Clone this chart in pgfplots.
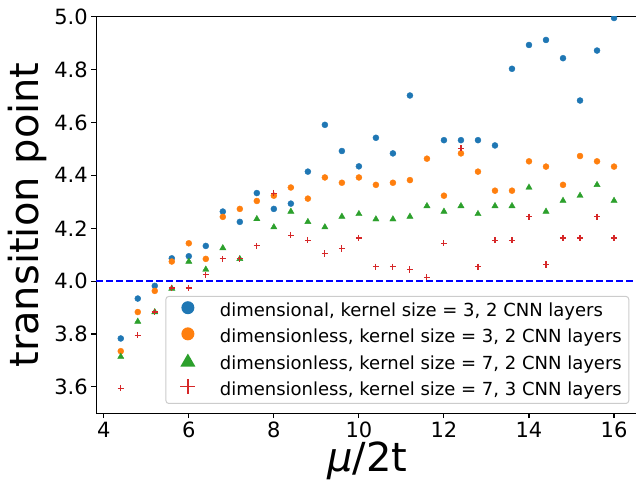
\documentclass[border=0pt]{standalone}
\usepackage{fontspec}
\setmainfont{DejaVu Sans}
\usepackage{pgfplots}
\pgfplotsset{compat=1.18}

\definecolor{c0}{HTML}{1F77B4}
\definecolor{c1}{HTML}{FF7F0E}
\definecolor{c2}{HTML}{2CA02C}
\definecolor{c3}{HTML}{D62728}
\definecolor{frame}{HTML}{CCCCCC}

\begin{document}
\begin{tikzpicture}
\begin{axis}[
    name=ax,
    scale only axis,
    width=542.6pt, height=396.6pt,
    xmin=3.82, xmax=16.58,
    ymin=3.5, ymax=5.0,
    xtick={4,6,8,10,12,14,16},
    ytick={3.6,3.8,4.0,4.2,4.4,4.6,4.8,5.0},
    yticklabel style={/pgf/number format/.cd,fixed,fixed zerofill,precision=1},
    /pgf/number format/assume math mode=true,
    tick label style={font=\fontsize{21}{25}\selectfont},
    tick align=outside,
    tick pos=left,
    major tick length=4.9pt,
    every tick/.style={black, line width=1.1pt},
    axis line style={line width=1.1pt},
    clip marker paths=true,
    xlabel={\textit{μ}/2t},
    ylabel={transition point},
    label style={font=\fontsize{40}{48}\selectfont},
    x label style={at={([yshift=-58.4pt]axis description cs:0.5,0)}, anchor=base},
    y label style={at={([xshift=-57.4pt]axis description cs:0,0.5)}, anchor=base, rotate=0},
    legend cell align=left,
    legend style={
        at={(axis description cs:1,0)}, anchor=south east,
        xshift=-9.4pt, yshift=9.3pt,
        draw=frame, line width=1pt, rounded corners=3pt,
        fill=white, fill opacity=0.8, text opacity=1,
        font=\fontsize{18}{22}\selectfont,
        inner xsep=1pt, inner ysep=2.7pt,
        row sep=3pt,
        nodes={inner xsep=6pt, inner ysep=4pt},
    },
]

% dashed reference line at 4.0
\addplot[blue, line width=2pt, dash pattern=on 7pt off 3pt, forget plot]
coordinates {(3.82,4.0) (16.58,4.0)};

% dimensional, kernel 3, 2 layers
\addplot[only marks, mark=*, mark size=3pt, color=c0, forget plot]
coordinates {
(4.4,3.783)(4.8,3.934)(5.2,3.982)(5.6,4.086)(6.0,4.094)(6.4,4.133)
(6.8,4.263)(7.2,4.224)(7.6,4.333)(8.0,4.273)(8.4,4.293)(8.8,4.414)
(9.2,4.591)(9.6,4.492)(10.0,4.434)(10.4,4.542)(10.8,4.483)(11.2,4.702)
(12.0,4.533)(12.4,4.533)(12.8,4.533)(13.2,4.513)(13.6,4.803)(14.0,4.893)
(14.4,4.912)(14.8,4.843)(15.2,4.683)(15.6,4.872)(16.0,4.995)
};

% dimensionless, kernel 3, 2 layers
\addplot[only marks, mark=*, mark size=3pt, color=c1, forget plot]
coordinates {
(4.4,3.735)(4.8,3.883)(5.2,3.963)(5.6,4.074)(6.0,4.143)(6.4,4.084)
(6.8,4.243)(7.2,4.273)(7.6,4.303)(8.0,4.323)(8.4,4.354)(8.8,4.312)
(9.2,4.392)(9.6,4.372)(10.0,4.392)(10.4,4.364)(10.8,4.372)(11.2,4.382)
(11.6,4.463)(12.0,4.323)(12.4,4.483)(12.8,4.414)(13.2,4.342)(13.6,4.342)
(14.0,4.453)(14.4,4.433)(14.8,4.364)(15.2,4.473)(15.6,4.453)(16.0,4.433)
};

% dimensionless, kernel 7, 2 layers
\addplot[only marks, mark=triangle*, mark size=3.6pt, color=c2, forget plot]
coordinates {
(4.4,3.714)(4.8,3.847)(5.2,3.883)(5.6,3.972)(6.0,4.074)(6.4,4.044)
(6.8,4.125)(7.2,4.084)(7.6,4.235)(8.0,4.204)(8.4,4.263)(8.8,4.224)
(9.2,4.204)(9.6,4.244)(10.0,4.254)(10.4,4.234)(10.8,4.234)(11.2,4.244)
(11.6,4.284)(12.0,4.263)(12.4,4.284)(12.8,4.254)(13.2,4.284)(13.6,4.284)
(14.0,4.354)(14.4,4.263)(14.8,4.304)(15.2,4.323)(15.6,4.364)(16.0,4.304)
};

% dimensionless, kernel 7, 3 layers
\addplot[only marks, mark=+, mark size=3.1pt, line width=1.1pt, color=c3, forget plot]
coordinates {
(4.4,3.595)(4.8,3.795)(5.2,3.883)(5.6,3.974)(6.0,3.974)(6.4,4.024)
(6.8,4.084)(7.2,4.084)(7.6,4.133)(8.0,4.333)(8.4,4.174)(8.8,4.154)
(9.2,4.104)(9.6,4.123)(10.0,4.163)(10.4,4.054)(10.8,4.054)(11.2,4.044)
(11.6,4.014)(12.0,4.143)(12.4,4.503)(12.8,4.054)(13.2,4.154)(13.6,4.154)
(14.0,4.243)(14.4,4.063)(14.8,4.163)(15.2,4.163)(15.6,4.243)(16.0,4.163)
};

\addlegendimage{legend image code/.code={
    \path[draw=none, fill=none] (0pt,-10pt) rectangle (47pt,10pt);
    \fill[c0, draw=none, fill opacity=1] (21pt,3pt) circle (6.5pt);}}
\addlegendentry{dimensional, kernel size = 3, 2 CNN layers}
\addlegendimage{legend image code/.code={
    \path[draw=none, fill=none] (0pt,-10pt) rectangle (47pt,10pt);
    \fill[c1, draw=none, fill opacity=1] (21pt,3pt) circle (6.5pt);}}
\addlegendentry{dimensionless, kernel size = 3, 2 CNN layers}
\addlegendimage{legend image code/.code={
    \path[draw=none, fill=none] (0pt,-10pt) rectangle (47pt,10pt);
    \fill[c2, draw=none, fill opacity=1, rounded corners=0pt] (13.5pt,-3.5pt) -- (28.5pt,-3.5pt) -- (21pt,9.5pt) -- cycle;}}
\addlegendentry{dimensionless, kernel size = 7, 2 CNN layers}
\addlegendimage{legend image code/.code={
    \path[draw=none, fill=none] (0pt,-10pt) rectangle (47pt,10pt);
    \draw[c3, line width=1.4pt, draw opacity=1, rounded corners=0pt] (13.5pt,3pt) -- (28.5pt,3pt) (21pt,-4.5pt) -- (21pt,10.5pt);}}
\addlegendentry{dimensionless, kernel size = 7, 3 CNN layers}
\end{axis}
\pgfresetboundingbox
\path[use as bounding box] ([xshift=-96.1pt,yshift=-67.7pt]ax.south west)
    rectangle ([xshift=-2.7pt,yshift=16.7pt]ax.north east);
\end{tikzpicture}
\end{document}
